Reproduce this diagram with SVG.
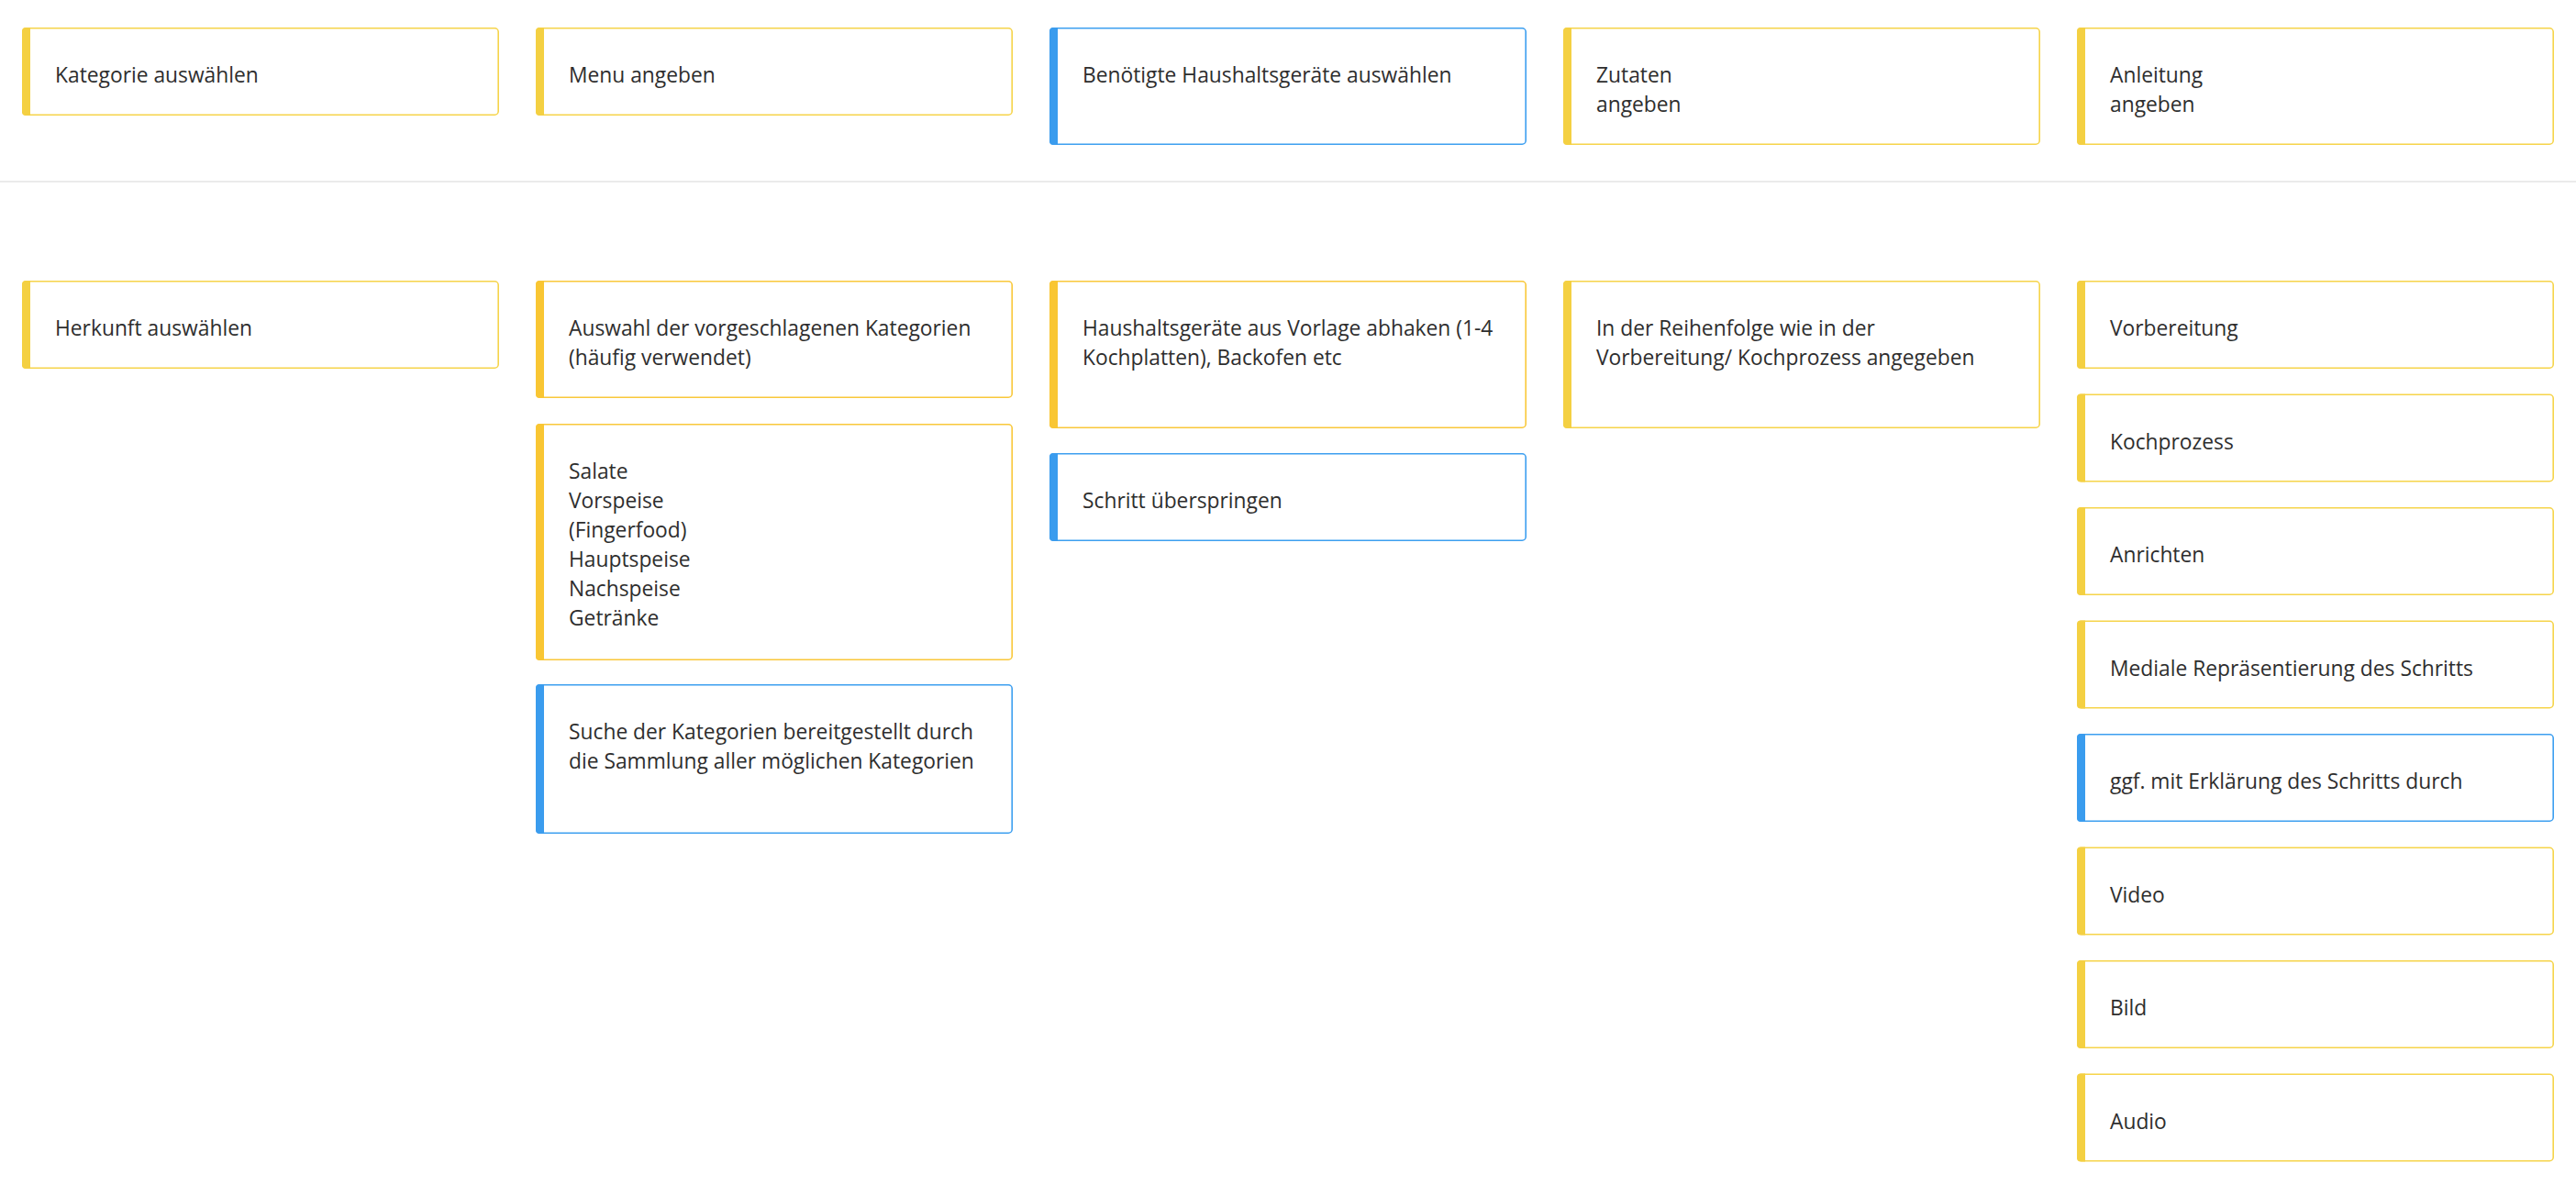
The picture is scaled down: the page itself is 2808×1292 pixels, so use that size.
<svg xmlns="http://www.w3.org/2000/svg" width="2808" height="1292" viewBox="0 0 2808 1292">
<style>
.card{fill:#ffffff;stroke-width:1.6}
.y .card{stroke:#f6d44a}
.y .bar{fill:#f4d042}
.o .card{stroke:#f9c83a}
.o .bar{fill:#f9c633}
.b .card{stroke:#3d9ff0}
.b .bar{fill:#3a9cee}
text{font-family:"Open Sans","Noto Sans","DejaVu Sans",sans-serif;font-size:22.8px;fill:#2e2e2e}
.sep{stroke:#ebebeb;stroke-width:2}
</style>
<rect width="2808" height="1292" fill="#ffffff"/>
<g id="connectors"><line class="sep" x1="0" y1="198" x2="2808" y2="198"/></g>

<g id="n1" class="y"><rect class="card" x="24.8" y="30.8" width="518.4" height="94.4" rx="4"/><path class="bar" d="M28,30H33V126H28A4,4 0 0 1 24,122V34A4,4 0 0 1 28,30Z"/><text x="60" y="90">Kategorie auswählen</text></g>
<g id="n2" class="y"><rect class="card" x="584.8" y="30.8" width="518.4" height="94.4" rx="4"/><path class="bar" d="M588,30H593V126H588A4,4 0 0 1 584,122V34A4,4 0 0 1 588,30Z"/><text x="620" y="90">Menu angeben</text></g>
<g id="n3" class="b"><rect class="card" x="1144.8" y="30.8" width="518.4" height="126.4" rx="4"/><path class="bar" d="M1148,30H1153V158H1148A4,4 0 0 1 1144,154V34A4,4 0 0 1 1148,30Z"/><text x="1180" y="90">Benötigte Haushaltsgeräte auswählen</text></g>
<g id="n4" class="y"><rect class="card" x="1704.8" y="30.8" width="518.4" height="126.4" rx="4"/><path class="bar" d="M1708,30H1713V158H1708A4,4 0 0 1 1704,154V34A4,4 0 0 1 1708,30Z"/><text x="1740" y="90">Zutaten</text><text x="1740" y="122">angeben</text></g>
<g id="n5" class="y"><rect class="card" x="2264.8" y="30.8" width="518.4" height="126.4" rx="4"/><path class="bar" d="M2268,30H2273V158H2268A4,4 0 0 1 2264,154V34A4,4 0 0 1 2268,30Z"/><text x="2300" y="90">Anleitung</text><text x="2300" y="122">angeben</text></g>

<g id="n6" class="y"><rect class="card" x="24.8" y="306.8" width="518.4" height="94.4" rx="4"/><path class="bar" d="M28,306H33V402H28A4,4 0 0 1 24,398V310A4,4 0 0 1 28,306Z"/><text x="60" y="366">Herkunft auswählen</text></g>

<g id="n7" class="o"><rect class="card" x="584.8" y="306.8" width="518.4" height="126.4" rx="4"/><path class="bar" d="M588,306H593V434H588A4,4 0 0 1 584,430V310A4,4 0 0 1 588,306Z"/><text x="620" y="366">Auswahl der vorgeschlagenen Kategorien</text><text x="620" y="398">(häufig verwendet)</text></g>
<g id="n8" class="o"><rect class="card" x="584.8" y="462.8" width="518.4" height="256.4" rx="4"/><path class="bar" d="M588,462H593V720H588A4,4 0 0 1 584,716V466A4,4 0 0 1 588,462Z"/><text x="620" y="522">Salate</text><text x="620" y="554">Vorspeise</text><text x="620" y="586">(Fingerfood)</text><text x="620" y="618">Hauptspeise</text><text x="620" y="650">Nachspeise</text><text x="620" y="682">Getränke</text></g>
<g id="n9" class="b"><rect class="card" x="584.8" y="746.8" width="518.4" height="161.4" rx="4"/><path class="bar" d="M588,746H593V909H588A4,4 0 0 1 584,905V750A4,4 0 0 1 588,746Z"/><text x="620" y="806">Suche der Kategorien bereitgestellt durch</text><text x="620" y="838">die Sammlung aller möglichen Kategorien</text></g>

<g id="n10" class="o"><rect class="card" x="1144.8" y="306.8" width="518.4" height="159.4" rx="4"/><path class="bar" d="M1148,306H1153V467H1148A4,4 0 0 1 1144,463V310A4,4 0 0 1 1148,306Z"/><text x="1180" y="366">Haushaltsgeräte aus Vorlage abhaken (1-4</text><text x="1180" y="398">Kochplatten), Backofen etc</text></g>
<g id="n11" class="b"><rect class="card" x="1144.8" y="494.8" width="518.4" height="94.4" rx="4"/><path class="bar" d="M1148,494H1153V590H1148A4,4 0 0 1 1144,586V498A4,4 0 0 1 1148,494Z"/><text x="1180" y="554">Schritt überspringen</text></g>

<g id="n12" class="y"><rect class="card" x="1704.8" y="306.8" width="518.4" height="159.4" rx="4"/><path class="bar" d="M1708,306H1713V467H1708A4,4 0 0 1 1704,463V310A4,4 0 0 1 1708,306Z"/><text x="1740" y="366">In der Reihenfolge wie in der</text><text x="1740" y="398">Vorbereitung/ Kochprozess angegeben</text></g>

<g id="n13" class="y"><rect class="card" x="2264.8" y="306.8" width="518.4" height="94.4" rx="4"/><path class="bar" d="M2268,306H2273V402H2268A4,4 0 0 1 2264,398V310A4,4 0 0 1 2268,306Z"/><text x="2300" y="366">Vorbereitung</text></g>
<g id="n14" class="y"><rect class="card" x="2264.8" y="430.3" width="518.4" height="94.4" rx="4"/><path class="bar" d="M2268,429.5H2273V525.5H2268A4,4 0 0 1 2264,521.5V433.5A4,4 0 0 1 2268,429.5Z"/><text x="2300" y="489.5">Kochprozess</text></g>
<g id="n15" class="y"><rect class="card" x="2264.8" y="553.8" width="518.4" height="94.4" rx="4"/><path class="bar" d="M2268,553H2273V649H2268A4,4 0 0 1 2264,645V557A4,4 0 0 1 2268,553Z"/><text x="2300" y="613">Anrichten</text></g>
<g id="n16" class="y"><rect class="card" x="2264.8" y="677.3" width="518.4" height="94.4" rx="4"/><path class="bar" d="M2268,676.5H2273V772.5H2268A4,4 0 0 1 2264,768.5V680.5A4,4 0 0 1 2268,676.5Z"/><text x="2300" y="736.5">Mediale Repräsentierung des Schritts</text></g>
<g id="n17" class="b"><rect class="card" x="2264.8" y="800.8" width="518.4" height="94.4" rx="4"/><path class="bar" d="M2268,800H2273V896H2268A4,4 0 0 1 2264,892V804A4,4 0 0 1 2268,800Z"/><text x="2300" y="860">ggf. mit Erklärung des Schritts durch</text></g>
<g id="n18" class="y"><rect class="card" x="2264.8" y="924.3" width="518.4" height="94.4" rx="4"/><path class="bar" d="M2268,923.5H2273V1019.5H2268A4,4 0 0 1 2264,1015.5V927.5A4,4 0 0 1 2268,923.5Z"/><text x="2300" y="983.5">Video</text></g>
<g id="n19" class="y"><rect class="card" x="2264.8" y="1047.8" width="518.4" height="94.4" rx="4"/><path class="bar" d="M2268,1047H2273V1143H2268A4,4 0 0 1 2264,1139V1051A4,4 0 0 1 2268,1047Z"/><text x="2300" y="1107">Bild</text></g>
<g id="n20" class="y"><rect class="card" x="2264.8" y="1171.3" width="518.4" height="94.4" rx="4"/><path class="bar" d="M2268,1170.5H2273V1266.5H2268A4,4 0 0 1 2264,1262.5V1174.5A4,4 0 0 1 2268,1170.5Z"/><text x="2300" y="1230.5">Audio</text></g>
</svg>
